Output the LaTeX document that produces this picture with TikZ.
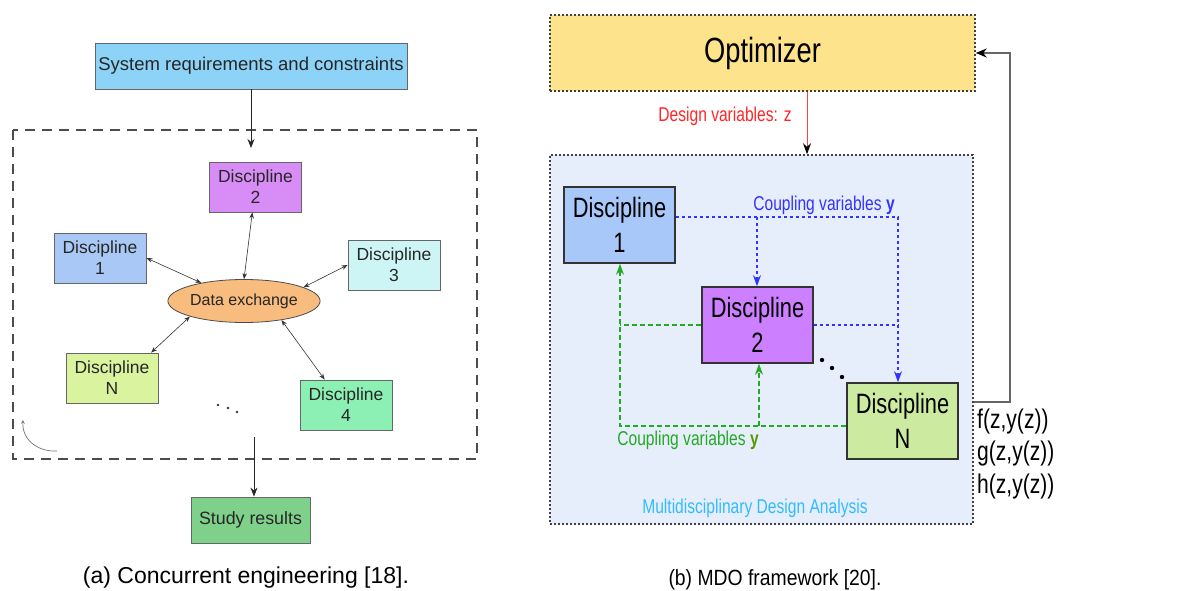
\documentclass[tikz,border=0pt]{standalone}
\usepackage{fontspec}
\setmainfont{Liberation Sans}
\newfontfamily\narrowsf[FakeStretch=0.78]{Liberation Sans}
\newfontfamily\captsf[FakeStretch=0.88]{Liberation Sans}
\usetikzlibrary{shapes.geometric, arrows.meta}

\definecolor{reqblue}{HTML}{8DD3F7}
\definecolor{discpurple}{HTML}{D88CF5}
\definecolor{discblue}{HTML}{AAC8F5}
\definecolor{disccyan}{HTML}{CDF5F5}
\definecolor{exorange}{HTML}{F7BC7E}
\definecolor{discyellow}{HTML}{DAF39E}
\definecolor{discmint}{HTML}{8CF0B4}
\definecolor{resgreen}{HTML}{7ED08A}
\definecolor{optyellow}{HTML}{FDE38B}
\definecolor{mdafill}{HTML}{E6EEFC}
\definecolor{rblue}{HTML}{A9C8FA}
\definecolor{rpurple}{HTML}{CC80FF}
\definecolor{rgreen}{HTML}{CDEBA0}
\definecolor{cplblue}{HTML}{3333FF}
\definecolor{cplgreen}{HTML}{22AA22}
\definecolor{yolive}{HTML}{559900}
\definecolor{mdatext}{HTML}{33BBFF}

\begin{document}
\begin{tikzpicture}[x=1pt, y=-1pt, >=stealth,
    smallbox/.style={draw=black!60, line width=0.8pt, minimum width=92pt, minimum height=50pt,
        align=center, text=black!85, font=\fontsize{17.5}{21}\selectfont},
    bigbox/.style={draw=black!80, line width=1.6pt, minimum width=111pt, minimum height=76pt,
        align=center, font=\narrowsf\fontsize{28}{35}\selectfont},
    twoway/.style={<->, >={Stealth[length=6pt,width=4.5pt]}, line width=0.6pt, black!80},
    downarrow/.style={->, >={Stealth[length=9pt,width=7pt]}, line width=0.8pt, black!85},
    blueflow/.style={cplblue, line width=1.5pt, dash pattern=on 3pt off 3pt,
        >={Stealth[length=11pt,width=8pt]}},
    greenflow/.style={cplgreen, line width=1.3pt, dash pattern=on 5pt off 3pt,
        >={Stealth[length=11pt,width=8pt]}},
    ]
    \useasboundingbox (0,0) rectangle (1181,591);

    % Left: concurrent engineering
    \draw[black!70, line width=1.3pt, dash pattern=on 10pt off 7pt] (13,130) rectangle (477,459);

    \node[draw=black!60, line width=0.8pt, fill=reqblue, minimum width=312pt, minimum height=46pt,
        text=black!85, font=\fontsize{18.5}{22}\selectfont] (sysreq) at (251,66) {System requirements and constraints};
    \node[smallbox, fill=discpurple] (disc2) at (255.5,187) {Discipline\\2};
    \node[smallbox, fill=discblue] (disc1) at (100,258) {Discipline\\1};
    \node[smallbox, fill=disccyan] (disc3) at (394,265) {Discipline\\3};
    \node[smallbox, fill=discyellow] (discN) at (112,378) {Discipline\\N};
    \node[smallbox, fill=discmint] (disc4) at (346,405) {Discipline\\4};
    \node[ellipse, draw=black!70, line width=0.8pt, fill=exorange, minimum width=135pt, minimum height=43pt,
        inner sep=0pt, text=black!85, font=\fontsize{16}{19}\selectfont] (dataex) at (244,301) {Data exchange};
    \node[draw=black!60, line width=0.8pt, fill=resgreen, minimum width=119pt, minimum height=46pt,
        text=black!85, font=\fontsize{17.8}{21}\selectfont] (study) at (250.5,520) {Study results};

    % Draw the flow in and out of the loop
    \coordinate (reqin) at (251,148);
    \coordinate (resout) at (254,437);
    \draw[downarrow] (sysreq) -- (reqin);
    \draw[downarrow] (resout) -- (resout |- study.north);

    % Draw the exchanges with each discipline
    \draw[twoway] (disc1.east) -- (dataex.157);
    \draw[twoway] (disc2) -- (dataex.north);
    \draw[twoway] (disc3.west) -- (dataex.13);
    \draw[twoway] (discN.33) -- (dataex.196);
    \draw[twoway] (disc4.130) -- (dataex.333);

    \foreach \dx/\dy in {218/405, 228/408, 237/412}
        \fill[black!80] (\dx,\dy) circle (1.3pt);
    \draw[->, black!55, line width=0.7pt] (57,451) .. controls (38,452) and (22,440) .. (23,420);

    \node[font=\fontsize{23}{28}\selectfont] (capa) at (246,578) {(a) Concurrent engineering [18].};

    % Right: MDO framework
    \node[draw=black!75, line width=1.5pt, dash pattern=on 2pt off 2pt, fill=optyellow,
        minimum width=425pt, minimum height=76pt, font=\narrowsf\fontsize{35}{42}\selectfont] (opt) at (762.5,53) {Optimizer};
    \node[draw=black!75, line width=1.5pt, dash pattern=on 2pt off 2pt, fill=mdafill,
        minimum width=423pt, minimum height=369pt] (mda) at (761.5,339.5) {};

    \coordinate (dvx) at (807,120);
    \draw[red!75, line width=1pt, -{Stealth[black, length=11pt, width=8pt]}] (dvx |- opt.south) -- (dvx |- mda.north);
    \node[text=red!85, font=\narrowsf\fontsize{20}{24}\selectfont] (dvlabel) at (725,116) {Design variables: z};

    \node[bigbox, fill=rblue] (rdisc1) at (619.5,225) {Discipline\\1};
    \node[bigbox, fill=rpurple] (rdisc2) at (757.5,325) {Discipline\\2};
    \node[bigbox, fill=rgreen] (rdiscN) at (902.5,421) {Discipline\\N};

    % Draw the blue coupling
    \coordinate (bj) at (757,217);
    \coordinate (bc) at (898,217);
    \draw[blueflow, ->] (rdisc1.east |- bj) -- (bc) -- (bc |- rdiscN.north);
    \draw[blueflow, ->] (bj) -- (bj |- rdisc2.north);
    \draw[blueflow] (rdisc2.east) -- (rdisc2.east -| bc);
    \node[text=cplblue, font=\narrowsf\fontsize{20}{24}\selectfont] (bluelabel) at (824,205) {Coupling variables \textbf{y}};

    % Draw the green coupling
    \coordinate (gc) at (620,426);
    \coordinate (gj) at (759,426);
    \draw[greenflow, ->] (rdiscN.west |- gc) -- (gc) -- (gc |- rdisc1.south);
    \draw[greenflow, ->] (gj) -- (gj |- rdisc2.south);
    \draw[greenflow] (rdisc2.west) -- (rdisc2.west -| gc);
    \node[text=cplgreen, font=\narrowsf\fontsize{20}{24}\selectfont] (greenlabel) at (688,440) {Coupling variables \textbf{\color{yolive}y}};

    \foreach \dx/\dy in {822/360, 832/368, 842/377}
        \fill (\dx,\dy) circle (2.2pt);

    % Draw the feedback to the optimizer
    \coordinate (fb) at (1010,402);
    \draw[black!60, line width=1.8pt, -{Stealth[black, length=11pt, width=9pt]}] (mda.east |- fb) -- (fb) -- (fb |- opt.east) -- (opt.east);
    \node[anchor=west, align=left, inner sep=0pt, font=\narrowsf\fontsize{27}{32.5}\selectfont] (funcs) at (977,454) {f(z,y(z))\\g(z,y(z))\\h(z,y(z))};

    \node[text=mdatext, font=\narrowsf\fontsize{20}{24}\selectfont] (mdalabel) at (755,508) {Multidisciplinary Design Analysis};
    \node[font=\captsf\fontsize{22}{26}\selectfont] (capb) at (775,580) {(b) MDO framework [20].};
\end{tikzpicture}
\end{document}
